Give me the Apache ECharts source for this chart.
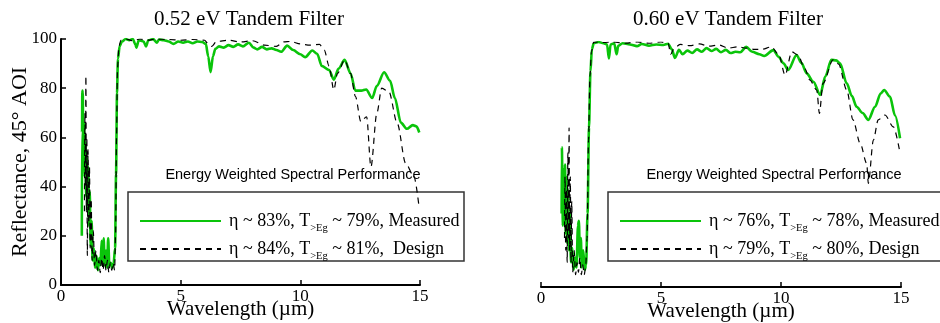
<!DOCTYPE html>
<html>
<head>
<meta charset="utf-8">
<script src="https://cdn.jsdelivr.net/npm/echarts@6/dist/echarts.min.js"></script>
<style>
  html, body { margin: 0; padding: 0; background: #fff; }
  #chart { width: 940px; height: 323px; }
</style>
</head>
<body>
<div id="chart"></div>
<script>
// [wavelength um, reflectance %]
var measured052 = [
  [0.87, 20], [0.88, 62], [0.89, 79], [0.91, 78], [0.93, 48], [0.96, 66], [0.99, 44], [1.02, 58],
  [1.05, 36], [1.08, 52], [1.11, 30], [1.14, 48], [1.17, 24], [1.2, 38], [1.24, 16], [1.28, 26],
  [1.32, 10], [1.37, 15], [1.42, 7], [1.48, 12], [1.54, 6], [1.6, 11], [1.65, 8], [1.7, 18],
  [1.74, 9], [1.78, 19], [1.83, 8], [1.88, 14], [1.93, 7], [1.97, 19], [2.02, 8], [2.08, 9],
  [2.14, 7], [2.2, 9], [2.26, 15], [2.3, 45], [2.34, 78], [2.38, 92], [2.45, 97], [2.55, 99],
  [2.7, 100], [2.85, 99.5], [3.0, 100], [3.1, 98], [3.15, 96.5], [3.25, 99.5], [3.45, 99],
  [3.55, 97], [3.65, 99.5], [3.85, 100], [4.0, 98.5], [4.1, 99.8], [4.3, 99.5], [4.5, 99],
  [4.7, 98], [4.9, 99], [5.1, 98.5], [5.3, 99], [5.5, 98.3], [5.7, 99], [5.9, 98.8], [6.05, 98],
  [6.15, 93], [6.25, 86.5], [6.35, 93], [6.45, 96], [6.6, 97], [6.8, 96.5], [7.0, 97.5],
  [7.2, 96.8], [7.4, 97.8], [7.6, 97], [7.85, 98.5], [8.05, 96.5], [8.2, 95.8], [8.4, 96.8],
  [8.6, 95.8], [8.8, 96.2], [9.0, 95.5], [9.2, 94.8], [9.45, 97.3], [9.7, 95.5], [10.0, 93.8],
  [10.2, 92.6], [10.5, 95.3], [10.7, 94], [10.9, 89], [11.2, 87.4], [11.4, 83.5], [11.6, 88],
  [11.85, 91.5], [12.1, 86], [12.3, 79], [12.55, 79], [12.75, 79.5], [13.0, 76], [13.2, 81],
  [13.5, 86.5], [13.75, 83], [13.95, 76], [14.2, 66], [14.45, 63.5], [14.7, 65], [14.85, 64.5],
  [14.97, 62]
];
var design052 = [
  [0.98, 30], [1.0, 70], [1.02, 40], [1.04, 85], [1.06, 30], [1.08, 60], [1.1, 12], [1.13, 55],
  [1.16, 25], [1.19, 48], [1.22, 15], [1.26, 35], [1.3, 10], [1.35, 22], [1.4, 8], [1.46, 14],
  [1.52, 6], [1.58, 10], [1.64, 5], [1.7, 11], [1.76, 6], [1.82, 12], [1.88, 6], [1.94, 10],
  [2.0, 5], [2.06, 9], [2.12, 6], [2.18, 9], [2.24, 6], [2.28, 20], [2.32, 60], [2.36, 88],
  [2.42, 97], [2.5, 99.5], [2.7, 100], [3.0, 99.3], [3.3, 100], [3.6, 99.5], [4.0, 100],
  [4.5, 99.8], [5.0, 99.5], [5.5, 99.8], [6.0, 99.5], [6.15, 98], [6.3, 97], [6.5, 99],
  [7.0, 99.5], [7.5, 98.8], [8.0, 99.3], [8.5, 97.5], [9.0, 97], [9.3, 98.8], [9.6, 99],
  [10.0, 98], [10.4, 97.5], [10.8, 97.8], [11.0, 95.5], [11.2, 89], [11.4, 79.3], [11.55, 86],
  [11.85, 91.5], [12.1, 86], [12.3, 76.7], [12.53, 66.4], [12.77, 68.4], [12.95, 48], [13.2, 70],
  [13.4, 80], [13.7, 78.6], [14.05, 65.7], [14.4, 49.5], [14.75, 44], [14.96, 31.8]
];
var measured060 = [
  [0.86, 30], [0.87, 57], [0.89, 45], [0.91, 25], [0.94, 48], [0.97, 30], [1.0, 50], [1.03, 22],
  [1.06, 45], [1.09, 18], [1.12, 40], [1.16, 15], [1.2, 30], [1.25, 10], [1.3, 16], [1.36, 7],
  [1.42, 12], [1.48, 8], [1.54, 25], [1.58, 27], [1.62, 12], [1.66, 20], [1.7, 8], [1.76, 15],
  [1.82, 7], [1.88, 9], [1.94, 30], [2.0, 65], [2.06, 88], [2.12, 97], [2.2, 99.5], [2.4, 100],
  [2.6, 99.5], [2.75, 99], [2.83, 93.3], [2.9, 99], [3.05, 99.5], [3.15, 95], [3.22, 98.5],
  [3.4, 99.5], [3.7, 99], [4.0, 98.3], [4.2, 99.2], [4.5, 98.5], [4.8, 99], [5.1, 98.8],
  [5.3, 99.3], [5.45, 97], [5.58, 93.5], [5.75, 96.8], [5.9, 95], [6.1, 96.5], [6.3, 95.5],
  [6.5, 97], [6.7, 96], [6.9, 97.5], [7.1, 96.3], [7.3, 97.2], [7.5, 95.8], [7.7, 96.8],
  [7.9, 95.5], [8.1, 96], [8.3, 95.8], [8.55, 98], [8.8, 96], [9.1, 95], [9.3, 94.3],
  [9.68, 96.7], [9.9, 94], [10.1, 91.3], [10.3, 88.6], [10.65, 94.7], [10.85, 91.5],
  [11.07, 87.2], [11.35, 83.8], [11.63, 78.4], [11.85, 86], [12.1, 92.7], [12.3, 92.5],
  [12.46, 91.3], [12.74, 83.1], [12.95, 78], [13.15, 73.6], [13.4, 71], [13.64, 68.2],
  [13.92, 73.6], [14.15, 79], [14.3, 80.4], [14.54, 77.7], [14.75, 70], [14.96, 60.7]
];
var design060 = [
  [0.98, 20], [1.0, 45], [1.03, 15], [1.06, 40], [1.09, 10], [1.12, 55], [1.15, 20], [1.17, 65],
  [1.19, 15], [1.22, 45], [1.25, 10], [1.28, 35], [1.32, 6], [1.38, 15], [1.44, 5], [1.5, 10],
  [1.56, 6], [1.62, 12], [1.68, 5], [1.74, 9], [1.8, 5], [1.86, 8], [1.92, 20], [1.98, 60],
  [2.04, 86], [2.1, 96], [2.2, 100], [2.6, 99.8], [3.0, 100], [3.5, 99.5], [4.0, 100],
  [4.5, 99.5], [5.0, 100], [5.3, 99.5], [5.4, 95], [5.55, 97.5], [5.8, 99], [6.2, 98.5],
  [6.6, 99.2], [7.0, 98.3], [7.4, 98.8], [7.8, 97.5], [8.2, 98], [8.55, 97.5], [8.9, 97],
  [9.2, 97], [9.6, 98], [9.9, 95], [10.17, 86.5], [10.45, 96], [10.7, 94.7], [11.0, 89],
  [11.2, 84.5], [11.49, 80.4], [11.6, 70.9], [11.75, 83.1], [12.17, 92.7], [12.4, 91],
  [12.74, 80.4], [13.0, 68.2], [13.3, 58.6], [13.57, 50.5], [13.64, 42.3], [13.85, 60],
  [14.05, 68.2], [14.33, 70.2], [14.68, 65.4], [14.96, 54.6]
];

var titles = ['0.52 eV Tandem Filter', '0.60 eV Tandem Filter'];
var legendTitle = 'Energy Weighted Spectral Performance';
// eta, T>Eg, kind
var legendRows = [
  ['83%', '79%', 'Measured'],
  ['84%', '81%', ' Design'],
  ['76%', '78%', 'Measured'],
  ['79%', '80%', 'Design']
];

var serif = 'Liberation Serif, Times New Roman, serif';
var green = '#0ac40a';

function seriesName(i) {
  return 'row' + i;
}

function legendText(name) {
  var r = legendRows[+name.replace('row', '')];
  return '{t|\u03b7 ~ ' + r[0] + ', T}{s|>Eg}{t| ~ ' + r[1] + ', ' + r[2] + '}';
}

function xAxis(idx) {
  return {
    type: 'value', gridIndex: idx, min: 0, max: 15, interval: 5,
    name: 'Wavelength (\u00b5m)', nameLocation: 'middle', nameGap: 14, nameMoveOverlap: false,
    nameTextStyle: { fontFamily: serif, fontSize: 21, color: '#000' },
    axisLine: { show: true, onZero: false, lineStyle: { color: '#000', width: 2 } },
    axisTick: { show: true, inside: true, length: 5, lineStyle: { color: '#000', width: 1.5 } },
    axisLabel: { fontFamily: serif, fontSize: 17, color: '#000', margin: 3 },
    splitLine: { show: false }
  };
}

function lineSeries(i, data, idx, dashed) {
  return {
    name: seriesName(i), type: 'line', xAxisIndex: idx, yAxisIndex: idx,
    data: data, symbol: 'none', smooth: 0.3, smoothMonotone: 'x',
    z: dashed ? 3 : 2,
    lineStyle: dashed ? { color: '#000', width: 1.2, type: [6, 5] } : { color: green, width: 2.6 },
    itemStyle: { color: dashed ? '#000' : green }
  };
}

function legend(idx, left) {
  return {
    orient: 'vertical', left: left, top: 207, itemWidth: 81, itemHeight: 14, itemGap: 6,
    data: [seriesName(idx * 2), seriesName(idx * 2 + 1)],
    formatter: legendText,
    selectedMode: false,
    itemStyle: { opacity: 0 },
    textStyle: {
      rich: {
        t: { fontFamily: serif, fontSize: 18, color: '#000', lineHeight: 18, verticalAlign: 'top' },
        s: { fontFamily: serif, fontSize: 10.5, color: '#000', lineHeight: 10, verticalAlign: 'top', padding: [11, 0, 0, 0] }
      },
      padding: [0, 0, 0, 3]
    }
  };
}

var chart = echarts.init(document.getElementById('chart'), null, { renderer: 'canvas' });
chart.setOption({
  animation: false,
  backgroundColor: '#fff',
  title: [
    { text: titles[0], left: 244, top: 4, textAlign: 'center',
      textStyle: { fontFamily: serif, fontSize: 21, fontWeight: 'normal', color: '#000' } },
    { text: titles[1], left: 723, top: 4, textAlign: 'center',
      textStyle: { fontFamily: serif, fontSize: 21, fontWeight: 'normal', color: '#000' } }
  ],
  grid: [
    { left: 61, top: 39, width: 359, height: 246, containLabel: false, outerBoundsMode: 'none' },
    { left: 541, top: 42, width: 360, height: 245, containLabel: false, outerBoundsMode: 'none' }
  ],
  xAxis: [xAxis(0), xAxis(1)],
  yAxis: [
    {
      type: 'value', gridIndex: 0, min: 0, max: 100, interval: 20,
      name: 'Reflectance, 45\u00b0 AOI', nameLocation: 'middle', nameGap: 30, nameMoveOverlap: false,
      nameTextStyle: { fontFamily: serif, fontSize: 22, color: '#000' },
      axisLine: { show: true, lineStyle: { color: '#000', width: 2 } },
      axisTick: { show: true, inside: true, length: 5, lineStyle: { color: '#000', width: 1.5 } },
      axisLabel: { fontFamily: serif, fontSize: 17, color: '#000', margin: 4 },
      splitLine: { show: false }
    },
    { type: 'value', gridIndex: 1, min: 0, max: 100, show: false }
  ],
  legend: [legend(0, 134), legend(1, 614)],
  graphic: [
    { type: 'rect', shape: { x: 128, y: 192, width: 336, height: 69 },
      style: { fill: 'none', stroke: '#333', lineWidth: 1.5 }, silent: true },
    { type: 'rect', shape: { x: 608, y: 192, width: 340, height: 69 },
      style: { fill: 'none', stroke: '#333', lineWidth: 1.5 }, silent: true },
    { type: 'text', x: 293, y: 175,
      style: { text: legendTitle, fontFamily: 'Liberation Sans, Arial, sans-serif', fontSize: 14.5, fill: '#000', textAlign: 'center', textVerticalAlign: 'middle' } },
    { type: 'text', x: 774, y: 175,
      style: { text: legendTitle, fontFamily: 'Liberation Sans, Arial, sans-serif', fontSize: 14.5, fill: '#000', textAlign: 'center', textVerticalAlign: 'middle' } }
  ],
  series: [
    lineSeries(0, measured052, 0, false),
    lineSeries(1, design052, 0, true),
    lineSeries(2, measured060, 1, false),
    lineSeries(3, design060, 1, true)
  ]
});
</script>
</body>
</html>
